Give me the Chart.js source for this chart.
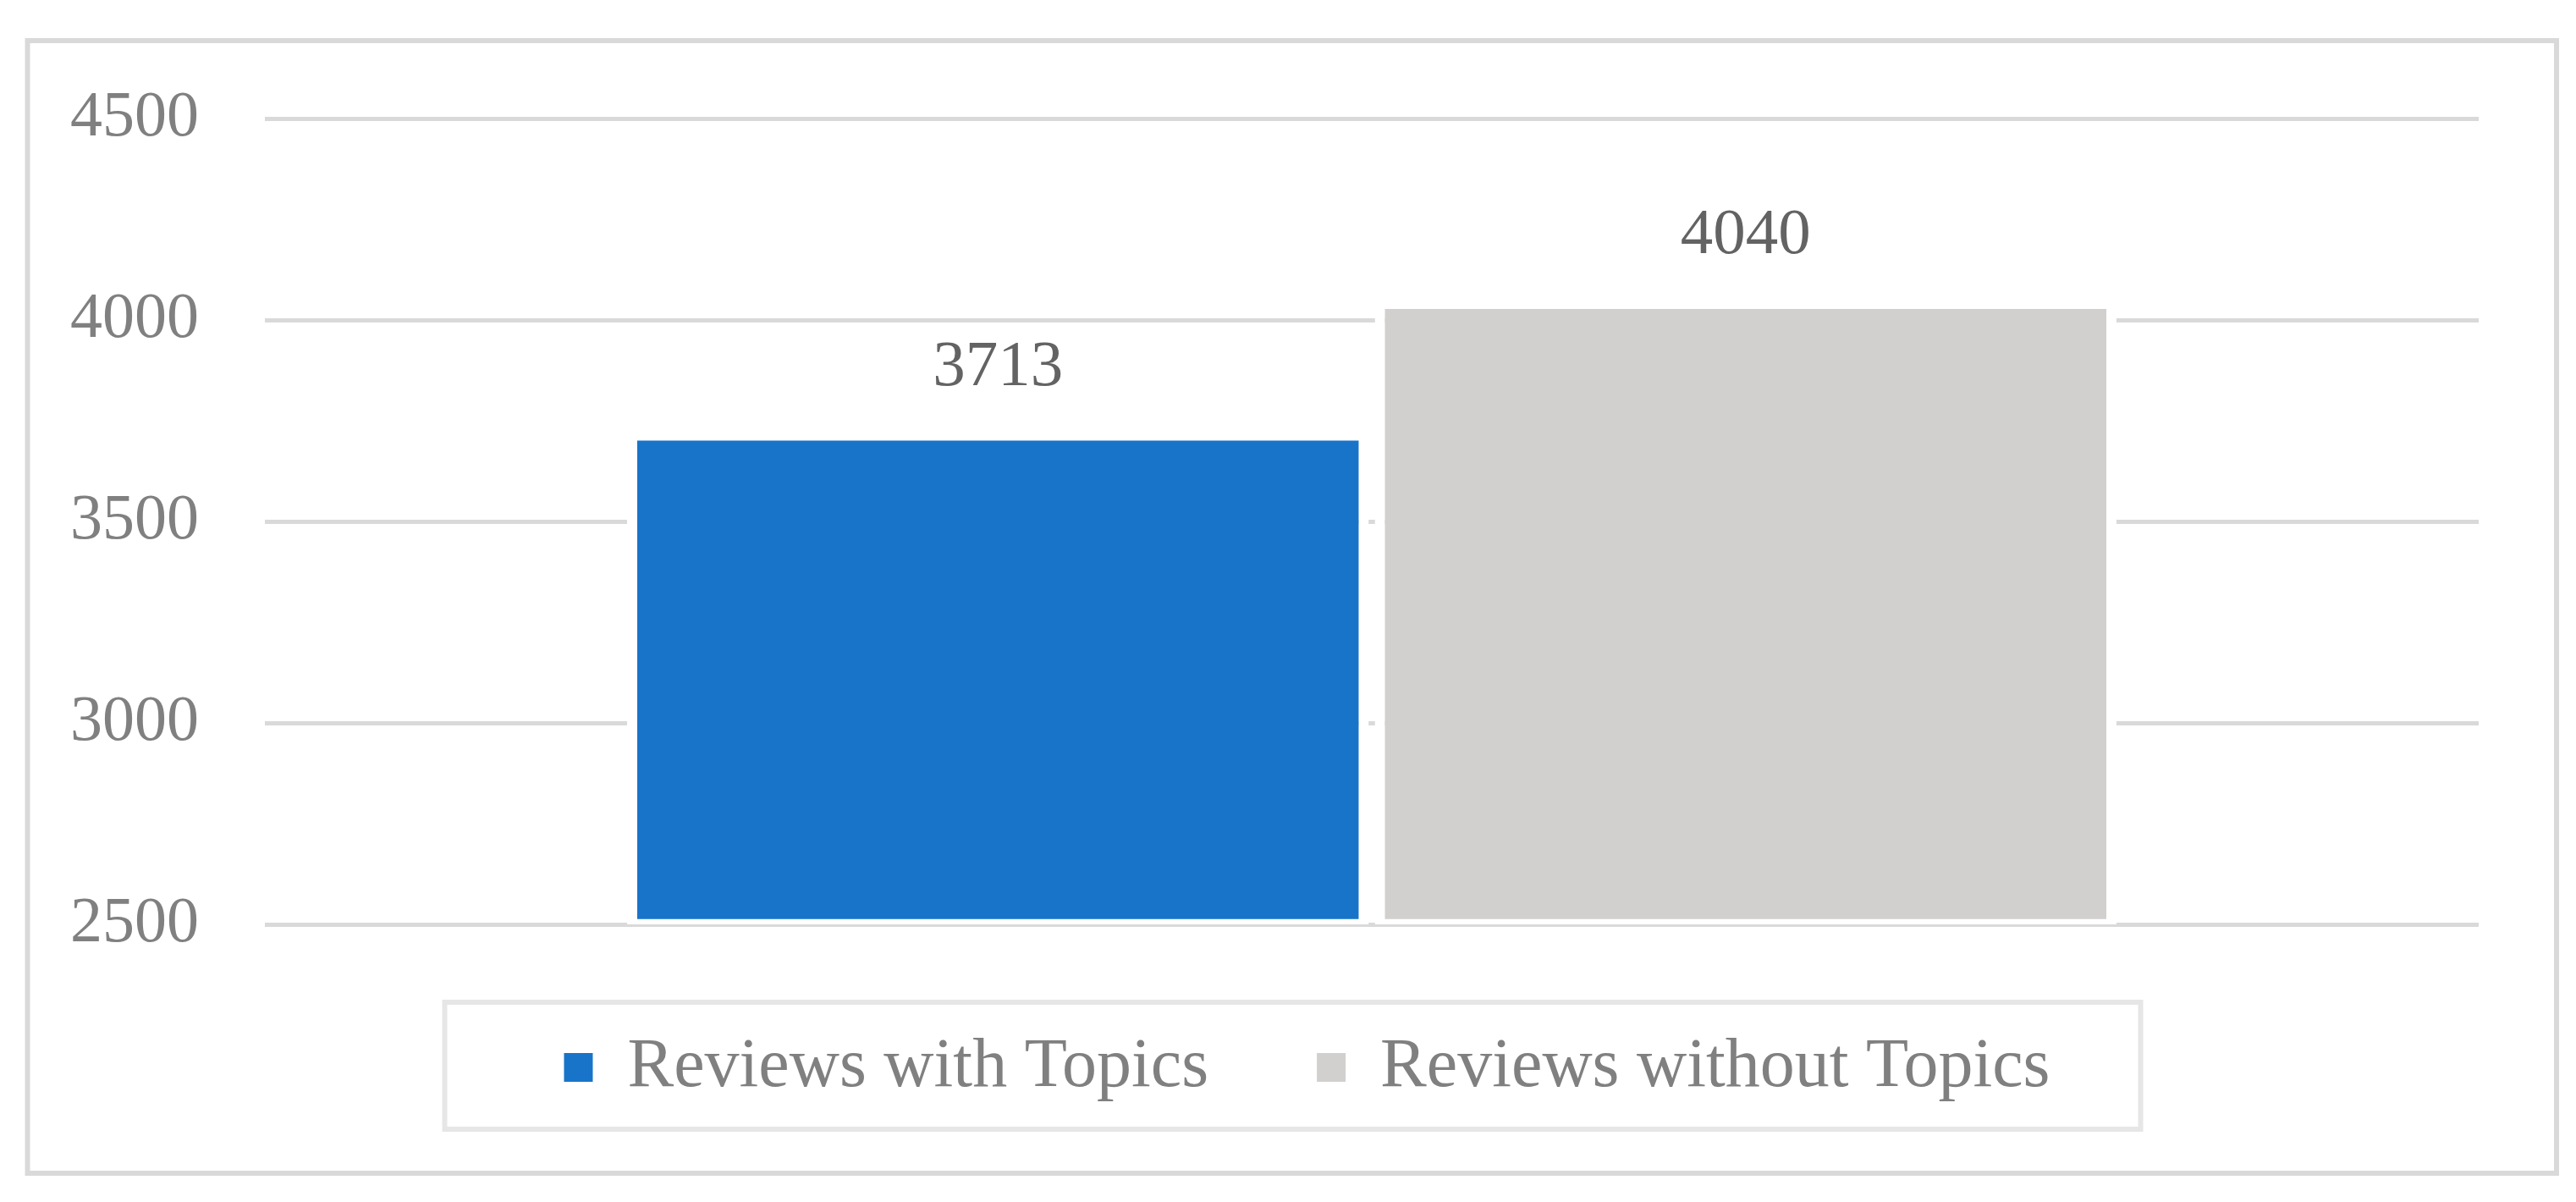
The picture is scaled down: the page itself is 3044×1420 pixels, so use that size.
<!DOCTYPE html>
<html>
<head>
<meta charset="utf-8">
<script src="https://cdn.jsdelivr.net/npm/chart.js@4.4.1/dist/chart.umd.min.js"></script>
<style>
  html, body { margin: 0; padding: 0; background: #ffffff; }
  #wrap { width: 3044px; height: 1420px; position: relative; }
</style>
</head>
<body>
<div id="wrap"><canvas id="c"></canvas></div>
<script>
// ---- data ----
const categories = ['Reviews'];
const seriesNames = ['Reviews with Topics', 'Reviews without Topics'];
const reviewsWithTopics = [3713];
const reviewsWithoutTopics = [4040];
const yTickValues = [2500, 3000, 3500, 4000, 4500];

// ---- styles ----
const FONT = '"Liberation Serif", "Times New Roman", serif';
Chart.defaults.font.family = FONT;

const pagePlugin = {
  id: 'pageFrame',
  beforeDraw(chart) {
    const ctx = chart.ctx;
    ctx.save();
    ctx.fillStyle = '#ffffff';
    ctx.fillRect(0, 0, chart.width, chart.height);
    ctx.strokeStyle = '#d9d9d9';
    ctx.lineWidth = 6;
    ctx.strokeRect(32.5, 48, 2988.5, 1338);
    ctx.restore();
  }
};

// shift the legend block so it is centred like the reference
const legendShiftPlugin = {
  id: 'legendShift',
  afterLayout(chart) {
    const lg = chart.legend;
    if (!lg) return;
    lg.left += 50;
    lg.right += 50;
  }
};

const legendFramePlugin = {
  id: 'legendFrame',
  afterDraw(chart) {
    const lg = chart.legend;
    if (!lg || !lg.legendHitBoxes || !lg.legendHitBoxes.length) return;
    const hb = lg.legendHitBoxes;
    const first = hb[0], last = hb[hb.length - 1];
    const left = first.left - 141;
    const right = last.left + last.width + 107;
    const top = first.top - 36;
    const bottom = first.top + 114;
    const ctx = chart.ctx;
    ctx.save();
    ctx.strokeStyle = '#e6e6e6';
    ctx.lineWidth = 6;
    ctx.strokeRect(left, top, right - left, bottom - top);
    ctx.restore();
  }
};

const dataLabelPlugin = {
  id: 'valueLabels',
  afterDatasetsDraw(chart) {
    const ctx = chart.ctx;
    ctx.save();
    ctx.font = '77px ' + FONT;
    ctx.fillStyle = '#636363';
    ctx.textAlign = 'center';
    ctx.textBaseline = 'middle';
    chart.data.datasets.forEach((ds, di) => {
      const meta = chart.getDatasetMeta(di);
      meta.data.forEach((bar, i) => {
        ctx.fillText(String(ds.data[i]), bar.x, bar.y - 80);
      });
    });
    ctx.restore();
  }
};

const barBorder = { top: 6, left: 12, right: 12, bottom: 11 };

new Chart(document.getElementById('c'), {
  type: 'bar',
  data: {
    labels: categories,
    datasets: [
      {
        label: seriesNames[0],
        data: reviewsWithTopics,
        backgroundColor: '#1874c9',
        borderColor: '#ffffff',
        borderWidth: barBorder,
        borderSkipped: false,
        base: 2490
      },
      {
        label: seriesNames[1],
        data: reviewsWithoutTopics,
        backgroundColor: '#d1d0ce',
        borderColor: '#ffffff',
        borderWidth: barBorder,
        borderSkipped: false,
        base: 2490
      }
    ]
  },
  options: {
    responsive: true,
    maintainAspectRatio: false,
    animation: false,
    devicePixelRatio: 1,
    categoryPercentage: 0.6755,
    barPercentage: 0.992,
    layout: { padding: { left: 60, right: 115, top: 140, bottom: 108 } },
    scales: {
      x: { display: false },
      y: {
        min: 2500,
        max: 4500,
        afterBuildTicks(scale) {
          scale.ticks = yTickValues.map(v => ({ value: v }));
        },
        afterFit(scale) { scale.width = 253; },
        border: { display: false },
        grid: { color: '#d9d9d9', lineWidth: 5, drawTicks: false },
        ticks: {
          padding: 78,
          color: '#808080',
          font: { size: 76, family: FONT },
          callback: (value) => String(value)
        }
      }
    },
    plugins: {
      tooltip: { enabled: false },
      legend: {
        position: 'bottom',
        labels: {
          boxWidth: 34,
          boxHeight: 34,
          padding: 128,
          color: '#808080',
          font: { size: 82, family: FONT },
          generateLabels(chart) {
            return Chart.defaults.plugins.legend.labels.generateLabels(chart)
              .map(l => Object.assign(l, { lineWidth: 0 }));
          }
        }
      }
    }
  },
  plugins: [pagePlugin, legendShiftPlugin, legendFramePlugin, dataLabelPlugin]
});
</script>
</body>
</html>
